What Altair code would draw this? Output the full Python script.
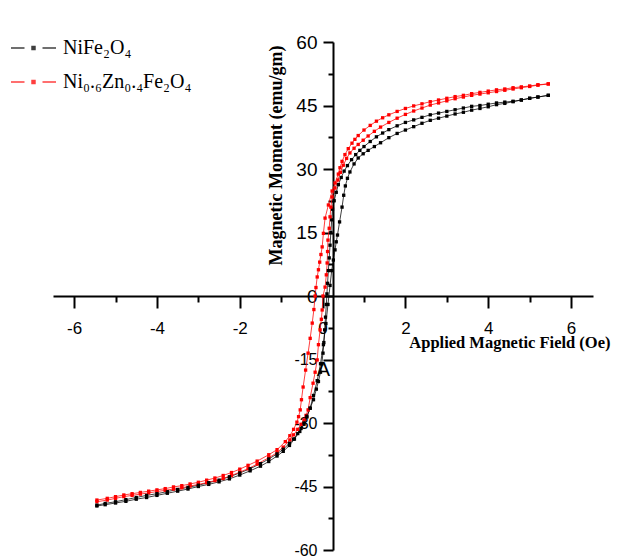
import altair as alt
import pandas as pd

series_names = ["NiFe₂O₄", "Ni₀.₆Zn₀.₄Fe₂O₄"]
series_colors = ["#000000", "#ff0000"]

# NiFe2O4 - descending branch
black_desc_x = [5.45, 5.2, 5.0, 4.8, 4.6, 4.4, 4.2, 4.0, 3.8, 3.6, 3.4, 3.2, 3.0, 2.8, 2.6, 2.4, 2.2, 2.0,
                1.8, 1.6, 1.45, 1.3, 1.15, 1.0, 0.9, 0.8, 0.7, 0.6, 0.52, 0.45, 0.38, 0.33, 0.28, 0.24,
                0.22, 0.2, 0.18, 0.16, 0.14, 0.12, 0.105, 0.09, 0.07, 0.05, 0.03, 0.01, -0.02, -0.05,
                -0.1, -0.15, -0.22, -0.3, -0.38, -0.45, -0.52, -0.6, -0.7, -0.8, -0.95, -1.1, -1.3,
                -1.5, -1.75, -2.0, -2.25, -2.5, -2.75, -3.0, -3.25, -3.5, -3.75, -4.0, -4.25, -4.5,
                -4.75, -5.0, -5.25, -5.45]
black_desc_y = [47.4, 47.0, 46.7, 46.3, 46.0, 45.8, 45.6, 45.3, 45.0, 44.8, 44.4, 44.0, 43.6, 43.2, 42.8,
                42.2, 41.6, 41.0, 40.2, 39.3, 38.5, 37.6, 36.5, 35.3, 34.4, 33.4, 32.2, 30.8, 29.5, 28.0,
                26.3, 24.5, 22.5, 20.5, 18.0, 15.0, 12.0, 9.0, 6.0, 3.0, 0.5, -2.0, -5.0, -8.0, -11.0,
                -13.5, -16.0, -18.0, -20.2, -22.0, -24.5, -26.5, -28.4, -30.0, -31.3, -32.5, -33.8,
                -34.8, -36.2, -37.3, -38.5, -39.6, -40.8, -41.8, -42.7, -43.5, -44.1, -44.7, -45.2,
                -45.7, -46.2, -46.7, -47.1, -47.6, -48.1, -48.6, -49.0, -49.4]
# NiFe2O4 - ascending branch
black_asc_x = [-5.45, -5.25, -5.0, -4.75, -4.5, -4.25, -4.0, -3.75, -3.5, -3.25, -3.0, -2.75, -2.5, -2.25,
               -2.0, -1.75, -1.5, -1.3, -1.1, -0.95, -0.8, -0.68, -0.55, -0.45, -0.38, -0.3, -0.22,
               -0.13, -0.05, 0.02, 0.08, 0.13, 0.18, 0.22, 0.26, 0.3, 0.33, 0.36, 0.41, 0.47, 0.51, 0.55,
               0.6, 0.66, 0.76, 0.86, 0.98, 1.1, 1.25, 1.4, 1.6, 1.8, 2.0, 2.2, 2.4, 2.6, 2.8, 3.0, 3.2,
               3.4, 3.6, 3.8, 4.0, 4.2, 4.4, 4.6, 4.8, 5.0, 5.2, 5.45]
black_asc_y = [-49.6, -49.3, -48.9, -48.5, -48.0, -47.6, -47.1, -46.6, -46.1, -45.6, -45.0, -44.5, -43.9,
               -43.2, -42.3, -41.3, -40.2, -39.1, -37.8, -36.7, -35.3, -33.8, -32.0, -30.3, -28.6,
               -26.5, -23.5, -20.0, -16.0, -11.5, -6.5, -2.0, 2.5, 6.0, 8.5, 10.9, 12.8, 14.4, 17.5,
               21.0, 23.8, 26.0, 27.8, 29.3, 31.2, 32.6, 33.6, 34.4, 35.3, 36.2, 37.4, 38.4, 39.2, 40.0,
               40.8, 41.5, 42.0, 42.5, 43.0, 43.4, 43.9, 44.3, 44.7, 45.2, 45.5, 45.9, 46.3, 46.7, 47.0,
               47.4]

# Ni0.6Zn0.4Fe2O4 - descending branch
red_desc_x = [5.45, 5.2, 5.0, 4.8, 4.6, 4.4, 4.2, 4.0, 3.8, 3.6, 3.4, 3.2, 3.0, 2.8, 2.6, 2.4, 2.2, 2.0,
              1.8, 1.6, 1.45, 1.3, 1.15, 1.0, 0.86, 0.78, 0.71, 0.62, 0.54, 0.47, 0.42, 0.38, 0.3, 0.23,
              0.14, 0.06, 0.02, -0.01, -0.04, -0.07, -0.1, -0.13, -0.16, -0.18, -0.21, -0.25, -0.3,
              -0.35, -0.41, -0.47, -0.51, -0.54, -0.58, -0.62, -0.7, -0.79, -0.9, -1.1, -1.3, -1.58,
              -1.8, -2.0, -2.2, -2.4, -2.6, -2.8, -3.0, -3.2, -3.4, -3.6, -3.8, -4.0, -4.2, -4.4, -4.6,
              -4.8, -5.0, -5.2, -5.45]
red_desc_y = [50.1, 49.9, 49.6, 49.4, 49.2, 48.9, 48.7, 48.4, 48.1, 47.8, 47.4, 47.1, 46.7, 46.3, 45.9,
              45.4, 44.9, 44.3, 43.6, 42.8, 42.1, 41.3, 40.3, 39.2, 37.9, 37.0, 36.1, 34.8, 33.4, 31.8,
              30.3, 28.8, 26.7, 24.8, 21.5, 18.4, 14.8, 11.6, 9.8, 8.0, 6.2, 4.5, 2.0, 0.0, -3.2, -6.4,
              -10.0, -13.5, -17.5, -21.5, -24.5, -26.9, -28.5, -29.8, -31.5, -33.0, -34.4, -36.3,
              -37.5, -39.0, -40.0, -40.9, -41.7, -42.4, -43.0, -43.5, -44.0, -44.4, -44.8, -45.1,
              -45.5, -45.8, -46.1, -46.4, -46.7, -47.0, -47.4, -47.8, -48.2]
# Ni0.6Zn0.4Fe2O4 - ascending branch
red_asc_x = [-5.45, -5.2, -5.0, -4.8, -4.6, -4.4, -4.2, -4.0, -3.8, -3.6, -3.4, -3.2, -3.0, -2.8, -2.6,
             -2.4, -2.2, -2.0, -1.8, -1.58, -1.3, -1.1, -0.95, -0.79, -0.7, -0.6, -0.52, -0.45, -0.4,
             -0.35, -0.3, -0.23, -0.18, -0.13, -0.1, -0.06, -0.03, -0.01, 0.01, 0.06, 0.09, 0.11, 0.12,
             0.13, 0.16, 0.18, 0.2, 0.23, 0.3, 0.37, 0.43, 0.5, 0.58, 0.66, 0.76, 0.86, 0.98, 1.1, 1.25,
             1.4, 1.6, 1.8, 2.0, 2.2, 2.4, 2.6, 2.8, 3.0, 3.2, 3.4, 3.6, 3.8, 4.0, 4.2, 4.4, 4.6, 4.8,
             5.0, 5.2, 5.45]
red_asc_y = [-48.6, -48.2, -47.8, -47.4, -47.1, -46.8, -46.5, -46.2, -45.9, -45.6, -45.3, -44.9, -44.5,
             -44.1, -43.6, -43.1, -42.4, -41.6, -40.8, -39.7, -38.2, -37.0, -35.7, -34.0, -32.8,
             -31.5, -30.3, -29.3, -28.2, -26.9, -24.0, -20.6, -18.0, -15.1, -11.5, -8.0, -5.5, -3.3,
             0.0, 2.1, 5.0, 7.8, 10.5, 13.2, 16.0, 18.7, 21.0, 23.4, 25.5, 27.4, 29.2, 30.9, 32.5, 33.8,
             34.9, 35.8, 36.8, 37.8, 38.9, 39.9, 41.0, 42.0, 42.9, 43.7, 44.4, 45.1, 45.6, 46.1, 46.6,
             47.0, 47.4, 47.7, 48.0, 48.3, 48.6, 48.9, 49.2, 49.5, 49.8, 50.1]

x_ticks = [-6, -5, -4, -3, -2, -1, 0, 1, 2, 3, 4, 5, 6]
y_ticks = [-60, -52.5, -45, -37.5, -30, -22.5, -15, -7.5, 0, 7.5, 15, 22.5, 30, 37.5, 45, 52.5, 60]

rows = []
def add(name, branch, xs, ys):
    for i, (x, y) in enumerate(zip(xs, ys)):
        rows.append({"series": name, "branch": name + branch, "idx": i, "H": x, "M": y})

add(series_names[0], "desc", black_desc_x, black_desc_y)
add(series_names[0], "asc", black_asc_x, black_asc_y)
add(series_names[1], "desc", red_desc_x, red_desc_y)
add(series_names[1], "asc", red_asc_x, red_asc_y)
df = pd.DataFrame(rows)

note_df = pd.DataFrame({"H": [0.02], "M": [-17.5], "t": ["A"]})

xscale = alt.Scale(domain=[-6.51, 6.53], nice=False, zero=False)
yscale = alt.Scale(domain=[-60, 60], nice=False, zero=False)

xaxis = alt.Axis(
    values=x_ticks,
    labelExpr="datum.value % 2 === 0 ? (datum.value < 0 ? '-' + abs(datum.value) : '' + datum.value) : ''",
    offset=-254, grid=False,
    domainColor="black", domainWidth=2, tickColor="black", tickWidth=2,
    tickSize={"condition": {"test": "datum.value % 2 === 0", "value": 12}, "value": 6},
    labelFont="Liberation Sans", labelFontSize=17, labelColor="black", labelPadding=12,
    title="Applied Magnetic Field (Oe)", titleFont="Liberation Serif", titleFontWeight="bold",
    titleFontSize=16.5, titleColor="black", titleX=557, titleY=46, titleAlign="right",
    titleBaseline="middle",
)
yaxis = alt.Axis(
    values=y_ticks,
    labelExpr="datum.value % 15 === 0 ? (datum.value < 0 ? '-' + abs(datum.value) : '' + datum.value) : ''",
    offset=-280, grid=False,
    domainColor="black", domainWidth=2, tickColor="black", tickWidth=2,
    tickSize={"condition": {"test": "datum.value % 15 === 0", "value": 10}, "value": 5},
    labelFont="Liberation Sans",
    labelFontSize={"condition": {"test": "datum.value < 0", "value": 16}, "value": 19},
    labelColor="black", labelPadding=6,
    title="Magnetic Moment (emu/gm)", titleFont="Liberation Serif", titleFontWeight="bold",
    titleFontSize=18, titleColor="black", titleX=-57, titleY=113, titleAngle=270,
    titleAlign="center", titleBaseline="middle",
)

leg = alt.Legend(
    title=None, orient="none", legendX=-43, legendY=-17.5,
    symbolType="M-1,0H-0.4M0.4,0H1M-0.07,-0.07H0.07V0.07H-0.07Z",
    symbolSize=2025, symbolStrokeWidth=1.3,
    labelFont="Liberation Serif", labelFontSize=20, labelColor="black", labelOffset=6,
    rowPadding=0, padding=0,
)

color = alt.Color("series:N", scale=alt.Scale(domain=series_names, range=series_colors), legend=leg)

base = alt.Chart(df).encode(
    x=alt.X("H:Q", scale=xscale, axis=xaxis),
    y=alt.Y("M:Q", scale=yscale, axis=yaxis),
    color=color,
    detail="branch:N",
    order="idx:Q",
)
lines = base.mark_line(strokeWidth=1, opacity=0.75)
pts = base.mark_square(size=11, opacity=1)

note = alt.Chart(note_df).mark_text(font="Liberation Sans", fontSize=20, color="black").encode(
    x=alt.X("H:Q", scale=xscale, axis=xaxis),
    y=alt.Y("M:Q", scale=yscale, axis=yaxis),
    text="t:N",
)

chart = alt.layer(lines, pts, note).properties(
    width=540, height=508,
    autosize=alt.AutoSizeParams(type="none"),
    padding={"left": 45, "top": 34, "right": 19, "bottom": 6},
).configure(background="white", view=alt.ViewConfig(stroke=None))

chart.save("out.html", embed_options={"renderer": "svg", "actions": False})
